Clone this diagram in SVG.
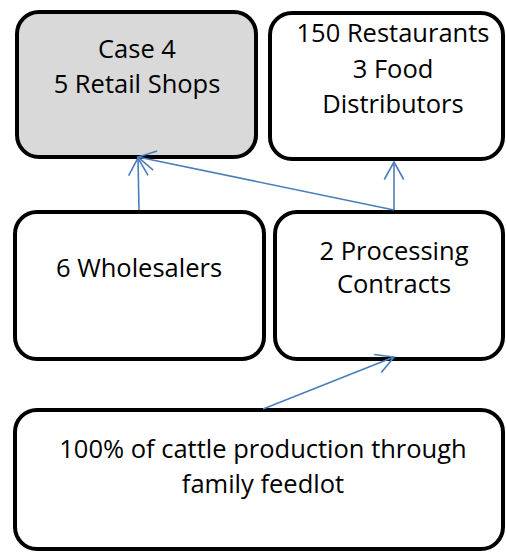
<svg xmlns="http://www.w3.org/2000/svg" width="506" height="552" viewBox="0 0 506 552">
  <style>
    .box { fill: #ffffff; stroke: #000000; stroke-width: 4; }
    .box.hl { fill: #d9d9d9; }
    .lbl { font-family: "Open Sans", "Liberation Sans", sans-serif; font-size: 25.5px; fill: #000000; text-anchor: middle; }
    .link { fill: none; stroke: #4a7ebb; stroke-width: 1.6; marker-end: url(#open); }
  </style>
  <defs>
    <marker id="open" viewBox="-20 -12 22 24" markerWidth="22" markerHeight="24" refX="0" refY="0" markerUnits="userSpaceOnUse" orient="auto">
      <path d="M -17.5 -9.7 L 0 0 L -17.5 9.7" fill="none" stroke="#4a7ebb" stroke-width="1.6"/>
    </marker>
  </defs>

  <g id="retail">
    <rect class="box hl" x="17" y="12" width="239" height="145" rx="22"/>
    <text class="lbl" x="137" y="58">Case 4</text>
    <text class="lbl" x="137" y="93">5 Retail Shops</text>
  </g>

  <g id="restaurants">
    <rect class="box" x="270" y="13" width="233" height="146" rx="22"/>
    <text class="lbl" x="393" y="42">150 Restaurants</text>
    <text class="lbl" x="393" y="78">3 Food</text>
    <text class="lbl" x="393" y="113">Distributors</text>
  </g>

  <g id="wholesalers">
    <rect class="box" x="15" y="212" width="249" height="147" rx="22"/>
    <text class="lbl" x="139" y="277">6 Wholesalers</text>
  </g>

  <g id="processing">
    <rect class="box" x="275" y="212" width="228" height="147" rx="22"/>
    <text class="lbl" x="394" y="260">2 Processing</text>
    <text class="lbl" x="394" y="293">Contracts</text>
  </g>

  <g id="feedlot">
    <rect class="box" x="15" y="410" width="488" height="139" rx="22"/>
    <text class="lbl" x="263" y="458">100% of cattle production through</text>
    <text class="lbl" x="263" y="493">family feedlot</text>
  </g>

  <g id="connectors">
    <path class="link" d="M 139 210 L 138 158"/>
    <path class="link" d="M 394 210 L 138 157"/>
    <path class="link" d="M 394 210 L 394 162"/>
    <path class="link" d="M 263 409 L 394 357"/>
  </g>
</svg>
